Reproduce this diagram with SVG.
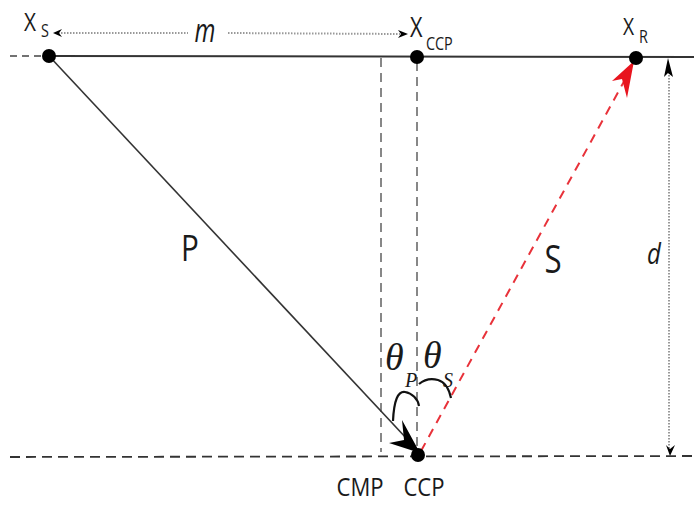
<svg xmlns="http://www.w3.org/2000/svg" width="694" height="506" viewBox="0 0 694 506">
<defs>
<style>
.t{font-family:"Open Sans","Noto Sans",sans-serif;fill:#1a1a1a}
.th{font-family:"Liberation Serif",serif;font-style:italic;fill:#1a1a1a}
.dim{stroke:#999;stroke-width:2;stroke-dasharray:1.5 1.5;fill:none}
.vd{stroke:#555;stroke-width:1.4;stroke-dasharray:9 6;fill:none}
</style>
</defs>
<rect width="694" height="506" fill="#fff"/>
<g id="connectors">
<line x1="10" y1="56" x2="46" y2="56" stroke="#444" stroke-width="1.5" stroke-dasharray="7 5"/>
<line x1="49" y1="56" x2="694" y2="57" stroke="#333" stroke-width="2"/>
<line x1="10" y1="457" x2="694" y2="456" stroke="#333" stroke-width="1.8" stroke-dasharray="10 6"/>
<line x1="381" y1="58" x2="381" y2="452" class="vd"/>
<line x1="417" y1="62" x2="417" y2="448" class="vd"/>
<line x1="49" y1="56" x2="408" y2="440" stroke="#333" stroke-width="1.6"/>
<path d="M420,453 L389,443 L404,440 L402,420 Z" fill="#000"/>
<line x1="421" y1="451" x2="627" y2="76" stroke="#e8323a" stroke-width="2" stroke-dasharray="9 7"/>
<path d="M634,61 L612,81 L622,79 L627,98 Z" fill="#e8141e"/>
<line x1="58" y1="33" x2="188" y2="33" class="dim"/>
<line x1="228" y1="33" x2="400" y2="34" class="dim"/>
<path d="M53,33 L62,29 L59,33 L62,37 Z" fill="#000"/>
<path d="M408,34 L398,30 L401,34 L398,38 Z" fill="#000"/>
<line x1="669" y1="66" x2="669" y2="448" class="dim"/>
<path d="M668,58 L664,77 L668,73 L673,77 Z" fill="#000"/>
<path d="M670,456 L666,445 L670,449 L675,445 Z" fill="#000"/>
<path d="M393,421 C394,400 398,391 405,392 C412,393 418,399 419,406" fill="none" stroke="#111" stroke-width="2.2"/>
<path d="M419,384 C425,379 431,378 438,380 C445,382 449,389 451,398" fill="none" stroke="#111" stroke-width="2.2"/>
</g>
<g id="XS">
<circle cx="49" cy="56" r="7" fill="#000"/>
<text transform="translate(24,31) scale(0.8,1)" class="t" font-size="26">X</text>
<text transform="translate(41,37) scale(0.8,1)" class="t" font-size="18">S</text>
</g>
<g id="XCCP">
<circle cx="417" cy="57" r="7" fill="#000"/>
<text transform="translate(410,37) scale(0.8,1)" class="t" font-size="27">X</text>
<text transform="translate(426,50) scale(0.8,1)" class="t" font-size="18">CCP</text>
</g>
<g id="XR">
<circle cx="636" cy="58" r="7" fill="#000"/>
<text transform="translate(623,35) scale(0.8,1)" class="t" font-size="24">X</text>
<text transform="translate(639,43) scale(0.8,1)" class="t" font-size="18">R</text>
</g>
<g id="CCP">
<circle cx="418" cy="455" r="7" fill="#000"/>
<text transform="translate(424,496) scale(0.85,1)" class="t" font-size="26" text-anchor="middle">CCP</text>
</g>
<g id="CMP">
<text transform="translate(360,496) scale(0.85,1)" class="t" font-size="26" text-anchor="middle">CMP</text>
</g>
<g id="labels">
<text transform="translate(205,42) scale(0.75,1)" class="t" font-size="32" font-style="italic" text-anchor="middle">m</text>
<text transform="translate(190,261) scale(0.8,1)" class="t" font-size="37" text-anchor="middle">P</text>
<text transform="translate(553,273) scale(0.8,1)" class="t" font-size="39" text-anchor="middle">S</text>
<text transform="translate(654,264) scale(0.8,1)" class="t" font-size="30" font-style="italic" text-anchor="middle">d</text>
<text x="385" y="370" class="th" font-size="38">θ</text>
<text x="405" y="387" class="th" font-size="20">P</text>
<text x="423" y="368" class="th" font-size="38">θ</text>
<text x="443" y="387" class="th" font-size="20">S</text>
</g>
</svg>
